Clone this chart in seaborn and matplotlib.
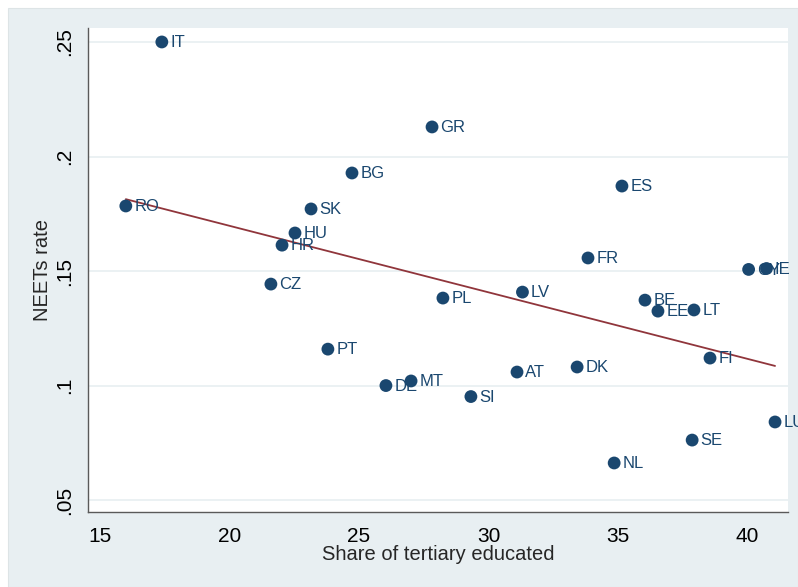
import matplotlib
matplotlib.use("Agg")
import matplotlib.pyplot as plt
import seaborn as sns
import pandas as pd
from matplotlib.patches import Rectangle

# Country codes, share of tertiary educated (%) and NEETs rate
countries = ["IT", "GR", "BG", "ES", "RO", "SK", "HU", "HR", "FR", "CY", "IE",
             "CZ", "LV", "PL", "BE", "EE", "LT", "PT", "FI", "DK", "AT", "MT",
             "DE", "SI", "LU", "SE", "NL"]
tertiary = [17.39, 27.82, 24.73, 35.15, 16.0, 23.15, 22.53, 22.03, 33.84, 40.04, 40.73,
            21.6, 31.31, 28.24, 36.04, 36.54, 37.93, 23.80, 38.55, 33.42, 31.10, 27.01,
            26.04, 29.32, 41.06, 37.86, 34.85]
neets = [0.250, 0.2129, 0.1928, 0.1871, 0.1784, 0.1771, 0.1666, 0.1613, 0.1557, 0.1507, 0.1511,
         0.1443, 0.1408, 0.1382, 0.1373, 0.1325, 0.1330, 0.1159, 0.1120, 0.1081, 0.1059, 0.1020,
         0.1000, 0.0952, 0.0841, 0.0762, 0.0662]

x_ticks = [15, 20, 25, 30, 35, 40]
y_ticks = [0.05, 0.10, 0.15, 0.20, 0.25]
y_tick_labels = [".05", ".1", ".15", ".2", ".25"]

df = pd.DataFrame({"country": countries, "tertiary": tertiary, "neets": neets})

NAVY = "#1a476f"
MAROON = "#90353b"
OUTER = "#e8eff2"
GRID = "#ebf1f3"
AXIS = "#5a5a5a"

sns.set_style("white")
plt.rcParams["font.family"] = ["Liberation Sans", "DejaVu Sans"]

fig = plt.figure(figsize=(7.98, 5.87), dpi=100)
fig.patch.set_facecolor("white")
# outer graph region
fig.add_artist(Rectangle((8 / 798, 0), 1 - 8 / 798, 1 - 8 / 587,
                         transform=fig.transFigure, facecolor=OUTER,
                         edgecolor="#dde4e6", linewidth=0.8, zorder=0))

ax = fig.add_axes([88 / 798, 1 - 512 / 587, (788 - 88) / 798, (512 - 28) / 587])
ax.set_facecolor("white")

sns.regplot(data=df, x="tertiary", y="neets", scatter=False, ci=None,
            truncate=True, color=MAROON, line_kws={"linewidth": 1.3, "zorder": 2}, ax=ax)
sns.scatterplot(data=df, x="tertiary", y="neets", color=NAVY, s=85,
                edgecolor="none", zorder=3, ax=ax)

for c, xv, yv in zip(countries, tertiary, neets):
    ax.annotate(c, (xv, yv), xytext=(6, -0.5), textcoords="offset points",
                ha="left", va="center", fontsize=12, color=NAVY,
                clip_on=False, zorder=4)

ax.set_xlim(14.54, 41.56)
ax.set_ylim(0.0448, 0.2561)
ax.set_xticks(x_ticks)
ax.set_xticklabels([str(t) for t in x_ticks])
ax.set_yticks(y_ticks)
ax.set_yticklabels(y_tick_labels, rotation=90, va="center")

ax.yaxis.grid(True, color=GRID, linewidth=1.4, zorder=0)
ax.xaxis.grid(False)
ax.set_axisbelow(True)

for side in ["top", "right"]:
    ax.spines[side].set_visible(False)
for side in ["left", "bottom"]:
    ax.spines[side].set_color(AXIS)
    ax.spines[side].set_linewidth(1.0)

ax.tick_params(axis="both", direction="out", length=6, width=1.0, color=AXIS,
               labelsize=15, labelcolor="black", pad=4)
ax.tick_params(axis="x", pad=5)

ax.set_xlabel("Share of tertiary educated", fontsize=14.5, labelpad=-1)
ax.set_ylabel("NEETs rate", fontsize=14.5, labelpad=2)

fig.savefig("out.png", dpi=100, facecolor=fig.get_facecolor())
